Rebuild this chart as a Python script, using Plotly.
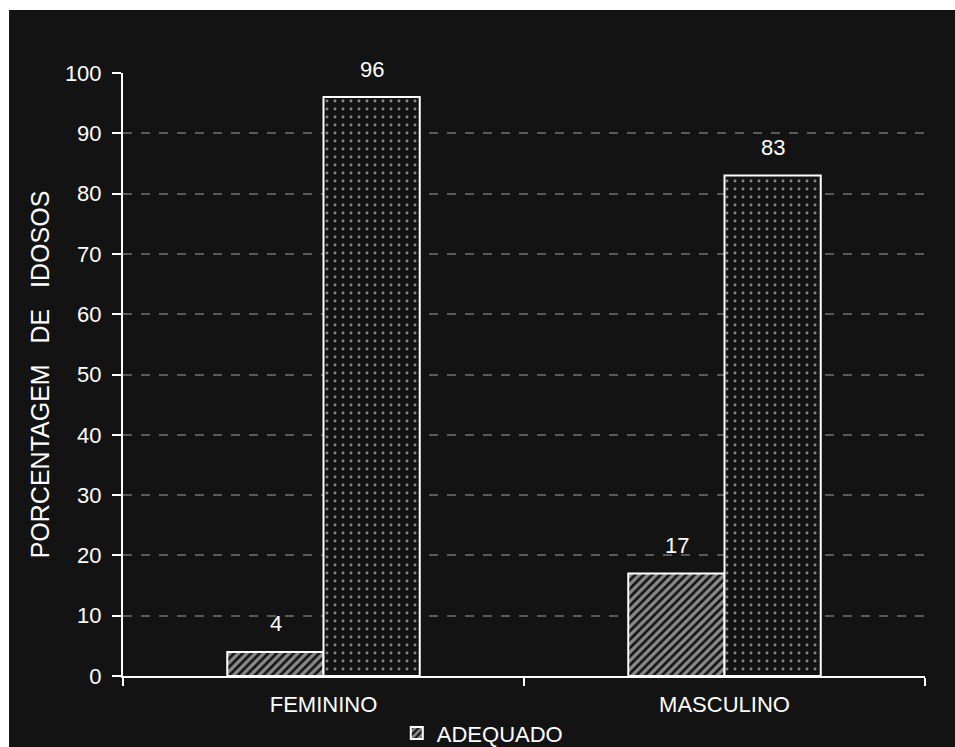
import plotly.graph_objects as go

categories = ["FEMININO", "MASCULINO"]
adequado = [4, 17]
inadequado = [96, 83]
y_ticks = [0, 10, 20, 30, 40, 50, 60, 70, 80, 90, 100]

BG = "#131313"
FONT = "Liberation Sans, Arial, sans-serif"

fig = go.Figure()
fig.add_trace(go.Bar(
    x=categories, y=adequado, name="ADEQUADO",
    marker=dict(color=BG, line=dict(color="white", width=2),
                pattern=dict(shape="/", fgcolor="white", bgcolor=BG, size=6, solidity=0.55)),
    showlegend=True,
))
fig.add_trace(go.Bar(
    x=categories, y=inadequado, name="INADEQUADO",
    marker=dict(color=BG, line=dict(color="white", width=2),
                pattern=dict(shape=".", fgcolor="white", bgcolor=BG, size=8, solidity=0.1)),
    showlegend=False,
))

for i, c in enumerate(categories):
    for vals, shift in ((adequado, -48), (inadequado, 48)):
        fig.add_annotation(x=c, y=vals[i], text=str(vals[i]), showarrow=False,
                           xshift=shift, yshift=28, yanchor="middle",
                           font=dict(color="white", size=22, family=FONT))

# white page strips at top and left (rest of page is dark)
fig.add_shape(type="rect", xref="paper", yref="paper",
              x0=-0.3, x1=1.3, y0=1.1045, y1=1.3,
              fillcolor="white", line=dict(width=0), layer="below")
fig.add_shape(type="rect", xref="paper", yref="paper",
              x0=-0.3, x1=-0.1421, y0=-0.3, y1=1.3,
              fillcolor="white", line=dict(width=0), layer="below")

fig.update_layout(
    width=955, height=747,
    margin=dict(l=123, r=30, t=73, b=71, autoexpand=False),
    paper_bgcolor=BG, plot_bgcolor=BG,
    barmode="group", bargap=0.52, bargroupgap=0,
    font=dict(family=FONT, color="white", size=22),
    legend=dict(orientation="h", x=0.448, xanchor="center", y=-0.095, yanchor="middle",
                font=dict(color="white", size=22), bgcolor="rgba(0,0,0,0)"),
    xaxis=dict(showline=True, linecolor="white", linewidth=2, ticks="outside",
               tickson="boundaries", ticklen=8, tickcolor="white", tickwidth=2,
               showgrid=False, tickfont=dict(size=22, color="white"),
               ticklabelstandoff=8),
    yaxis=dict(range=[0, 100], tickvals=y_ticks, showline=True, linecolor="white",
               linewidth=2, ticks="outside", ticklen=9, tickcolor="white", tickwidth=2,
               showgrid=True, gridcolor="#5a5a5a", griddash="dash", gridwidth=1.5,
               zeroline=False, tickfont=dict(size=22, color="white"),
               ticklabelstandoff=6,
               title=dict(text="PORCENTAGEM\u00a0\u00a0\u00a0DE\u00a0\u00a0\u00a0IDOSOS",
                          font=dict(size=25, color="white"), standoff=8)),
)

fig.write_html("out.html")
